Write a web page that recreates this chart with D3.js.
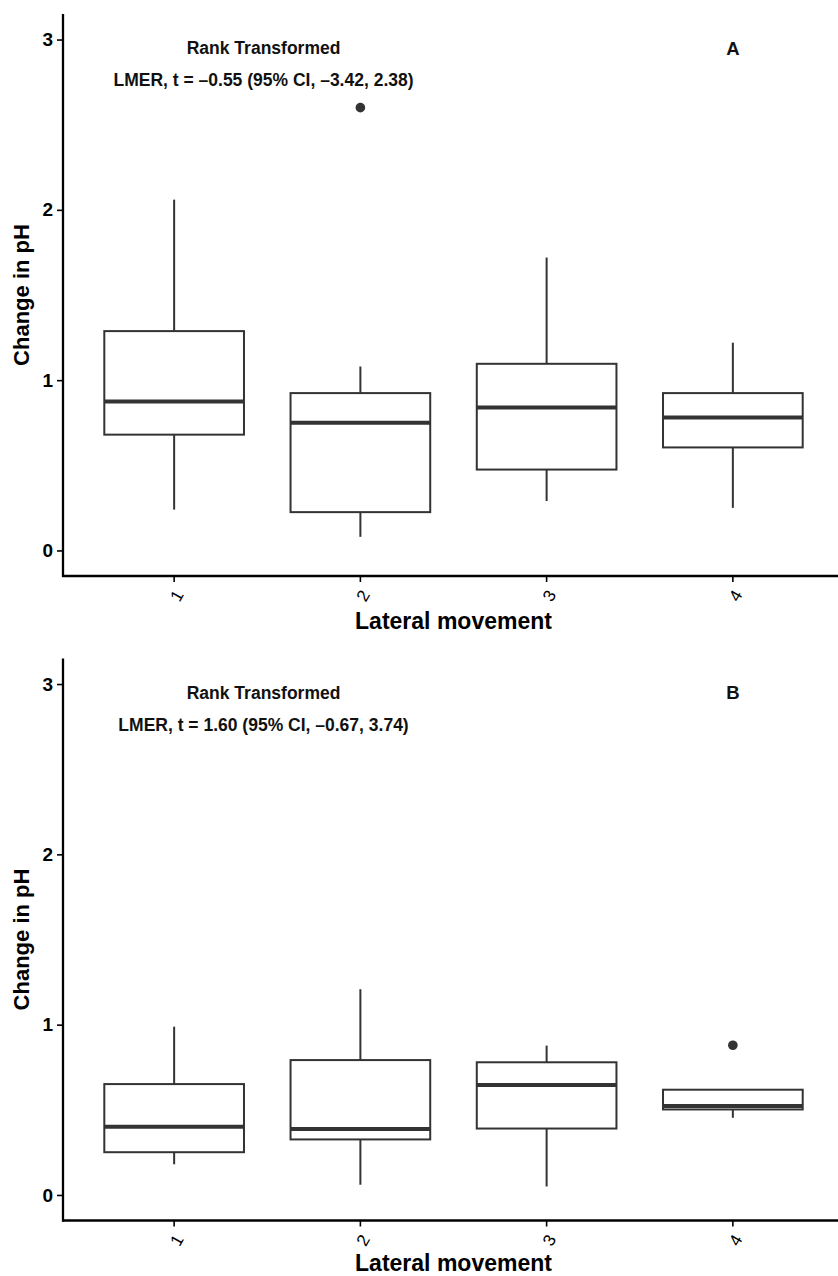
<!DOCTYPE html>
<html>
<head>
<meta charset="utf-8">
<script src="https://cdn.jsdelivr.net/npm/d3@7"></script>
<style>
  html, body { margin: 0; padding: 0; background: #fff; }
  svg { display: block; }
  text { font-family: "Liberation Sans", Arial, Helvetica, sans-serif; }
</style>
</head>
<body>
<script>
// ---------------- DATA ----------------
const categories = ["1", "2", "3", "4"];
const yTicks = [0, 1, 2, 3];
const yLimits = [0, 3];
const xTitle = "Lateral movement";
const yTitle = "Change in pH";

// Panel A
const aLower  = [0.24, 0.08, 0.29, 0.25];
const aQ1     = [0.68, 0.225, 0.475, 0.605];
const aMedian = [0.875, 0.75, 0.84, 0.78];
const aQ3     = [1.288, 0.924, 1.096, 0.924];
const aUpper  = [2.06, 1.08, 1.72, 1.22];
const aOutCat = ["2"];
const aOutVal = [2.6];
const aLabels = ["Rank Transformed", "LMER, t = \u20130.55 (95% CI, \u20133.42, 2.38)", "A"];

// Panel B
const bLower  = [0.18, 0.06, 0.05, 0.453];
const bQ1     = [0.251, 0.326, 0.39, 0.502];
const bMedian = [0.40, 0.388, 0.645, 0.522];
const bQ3     = [0.651, 0.792, 0.779, 0.618];
const bUpper  = [0.988, 1.208, 0.877, 0.618];
const bOutCat = ["4"];
const bOutVal = [0.879];
const bLabels = ["Rank Transformed", "LMER, t = 1.60 (95% CI, \u20130.67, 3.74)", "B"];

// annotation positions in data units (x position as category index 1-based, y value)
const annX = [1.48, 1.48, 4.0];
const annY = [2.95, 2.76, 2.95];

// ---------------- LAYOUT ----------------
const W = 838, H = 1276;
const svg = d3.select("body").append("svg").attr("width", W).attr("height", H);

const ink = "#333333";
const expand = 0.05 * (yLimits[1] - yLimits[0]);

function drawPanel(offsetY, titleBaseline, lower, q1, med, q3, upper, outCat, outVal, labels) {
  const g = svg.append("g").attr("transform", `translate(0,${offsetY})`);
  const plotLeft = 62.4, plotRight = 844.6, plotTop = 14, plotBottom = 576;

  const x = d3.scaleBand().domain(categories).range([plotLeft, plotRight])
    .paddingInner(0).paddingOuter(0.1);
  const y = d3.scaleLinear().domain([yLimits[0] - expand, yLimits[1] + expand])
    .range([plotBottom, plotTop]);
  const xNum = d3.scaleLinear().domain([1, 4])
    .range([x("1") + x.bandwidth() / 2, x("4") + x.bandwidth() / 2]);

  const boxW = 0.75 * x.bandwidth();
  const rows = categories.map((c, i) => ({ c, lo: lower[i], q1: q1[i], md: med[i], q3: q3[i], hi: upper[i] }));
  const cx = c => x(c) + x.bandwidth() / 2;

  const boxes = g.append("g");
  // whiskers
  boxes.selectAll(".wu").data(rows).join("line")
    .attr("x1", d => cx(d.c)).attr("x2", d => cx(d.c))
    .attr("y1", d => y(d.hi)).attr("y2", d => y(d.q3))
    .attr("stroke", ink).attr("stroke-width", 2);
  boxes.selectAll(".wl").data(rows).join("line")
    .attr("x1", d => cx(d.c)).attr("x2", d => cx(d.c))
    .attr("y1", d => y(d.q1)).attr("y2", d => y(d.lo))
    .attr("stroke", ink).attr("stroke-width", 2);
  // boxes
  boxes.selectAll("rect").data(rows).join("rect")
    .attr("x", d => cx(d.c) - boxW / 2).attr("width", boxW)
    .attr("y", d => y(d.q3)).attr("height", d => y(d.q1) - y(d.q3))
    .attr("fill", "#fff").attr("stroke", ink).attr("stroke-width", 2);
  // medians
  boxes.selectAll(".med").data(rows).join("line")
    .attr("x1", d => cx(d.c) - boxW / 2).attr("x2", d => cx(d.c) + boxW / 2)
    .attr("y1", d => y(d.md)).attr("y2", d => y(d.md))
    .attr("stroke", ink).attr("stroke-width", 4);
  // outliers
  g.selectAll("circle").data(outCat.map((c, i) => ({ c, v: outVal[i] }))).join("circle")
    .attr("cx", d => cx(d.c)).attr("cy", d => y(d.v)).attr("r", 4.8).attr("fill", ink);

  // y axis
  const yAxis = g.append("g").attr("transform", `translate(63,0)`)
    .call(d3.axisLeft(y).tickValues(yTicks).tickSize(6).tickPadding(4).tickFormat(d3.format("d")));
  yAxis.select(".domain").remove();
  yAxis.selectAll(".tick line").attr("stroke", "#000").attr("stroke-width", 1.6);
  yAxis.selectAll(".tick text").attr("font-size", 19).attr("font-weight", "bold").attr("fill", "#000")
    .attr("font-family", "Liberation Sans, Arial, sans-serif");

  // x axis
  const xAxis = g.append("g").attr("transform", `translate(0,${plotBottom})`)
    .call(d3.axisBottom(x).tickSize(6).tickPadding(4));
  xAxis.select(".domain").remove();
  xAxis.selectAll(".tick line").attr("stroke", "#000").attr("stroke-width", 1.6);
  xAxis.selectAll(".tick text").attr("font-size", 17).attr("fill", "#000")
    .attr("font-family", "Liberation Sans, Arial, sans-serif")
    .attr("text-anchor", "middle").attr("dy", null).attr("y", 0)
    .attr("transform", "translate(3,20) rotate(-60)")
    .attr("dominant-baseline", "central");

  // axis lines
  g.append("line").attr("x1", 63).attr("x2", 63).attr("y1", plotTop).attr("y2", plotBottom + 1)
    .attr("stroke", "#000").attr("stroke-width", 2.3);
  g.append("line").attr("x1", 62).attr("x2", W).attr("y1", plotBottom).attr("y2", plotBottom)
    .attr("stroke", "#000").attr("stroke-width", 2.3);

  // annotations
  const sizes = [17.5, 17.5, 18.5];
  labels.forEach((t, i) => {
    g.append("text").attr("x", xNum(annX[i])).attr("y", y(annY[i]))
      .attr("text-anchor", "middle").attr("dominant-baseline", "central")
      .attr("font-size", sizes[i]).attr("font-weight", "bold").attr("fill", "#111").text(t);
  });

  // titles
  g.append("text").attr("x", (plotLeft + plotRight) / 2).attr("y", titleBaseline)
    .attr("text-anchor", "middle").attr("font-size", 23).attr("font-weight", "bold").attr("fill", "#000")
    .text(xTitle);
  g.append("text").attr("transform", `translate(29,${(plotTop + plotBottom) / 2}) rotate(-90)`)
    .attr("text-anchor", "middle").attr("font-size", 22).attr("font-weight", "bold").attr("fill", "#000")
    .text(yTitle);
}

drawPanel(0, 629, aLower, aQ1, aMedian, aQ3, aUpper, aOutCat, aOutVal, aLabels);
drawPanel(644.5, 626.5, bLower, bQ1, bMedian, bQ3, bUpper, bOutCat, bOutVal, bLabels);
</script>
</body>
</html>
